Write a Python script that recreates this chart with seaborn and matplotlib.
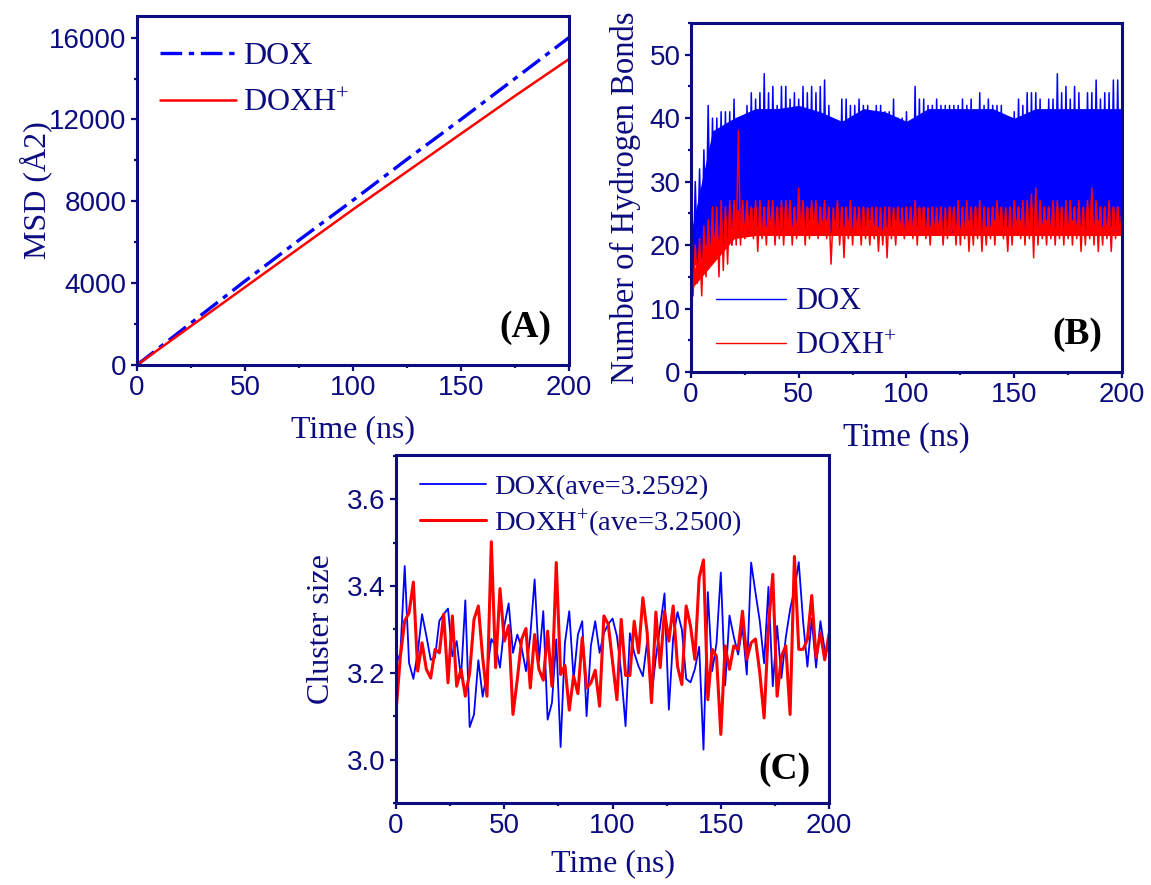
import numpy as np
import pandas as pd
import matplotlib
matplotlib.use("Agg")
import matplotlib.pyplot as plt
from matplotlib.ticker import MultipleLocator
import seaborn as sns

# ---------------- data ----------------
# (A) MSD
msd_time = [0, 25, 50, 75, 100, 125, 150, 175, 200]
msd_dox = [0, 2050, 4100, 6100, 8050, 10050, 12000, 14000, 16000]
msd_doxh = [0, 1900, 3800, 5700, 7600, 9450, 11300, 13150, 14950]

# (B) hydrogen bonds: envelope (max / min) read every 2 ns
hb_time = list(range(0, 201, 2))
hb_dox_max = [28, 30, 32, 35, 42, 40, 40, 41, 41, 41, 43, 40, 39, 42, 44, 43, 44, 47, 44, 45,
              42, 45, 45, 43, 44, 43, 45, 44, 45, 44, 45, 46, 42, 38, 38, 43, 43, 42, 42, 43,
              42, 42, 41, 42, 42, 41, 41, 43, 40, 40, 41, 38, 45, 43, 43, 42, 42, 43, 42, 42,
              42, 42, 42, 43, 42, 43, 41, 44, 42, 43, 42, 42, 42, 39, 40, 41, 43, 42, 44, 44,
              44, 43, 41, 43, 43, 47, 44, 45, 43, 45, 44, 41, 44, 44, 46, 43, 44, 44, 46, 46,
              42]
hb_dox_min = [14, 17, 18, 20, 20, 20, 21, 20, 21, 20, 22, 22, 23, 22, 24, 23, 22, 23, 24, 22,
              23, 22, 24, 23, 22, 23, 22, 24, 23, 22, 23, 24, 22, 23, 22, 23, 24, 22, 23, 22,
              23, 24, 22, 23, 22, 23, 22, 24, 23, 22, 23, 22, 23, 24, 22, 23, 22, 23, 22, 22,
              22, 23, 22, 23, 24, 22, 23, 22, 23, 22, 24, 23, 22, 23, 22, 23, 24, 22, 23, 22,
              23, 22, 24, 23, 22, 23, 22, 23, 24, 22, 23, 22, 23, 22, 24, 23, 22, 23, 22, 23,
              24]
hb_doxh_max = [16, 20, 21, 23, 24, 26, 26, 27, 26, 27, 27, 38, 27, 27, 26, 27, 27, 26, 27, 27,
               26, 27, 27, 27, 26, 29, 27, 26, 27, 27, 26, 27, 26, 25, 27, 26, 26, 27, 26, 26,
               26, 25, 26, 26, 25, 26, 26, 25, 26, 25, 26, 26, 27, 26, 26, 25, 26, 25, 26, 25,
               26, 26, 27, 26, 27, 26, 26, 27, 26, 25, 26, 27, 26, 25, 26, 27, 26, 27, 27, 28,
               29, 27, 26, 26, 27, 27, 26, 27, 27, 26, 27, 26, 27, 29, 27, 26, 26, 27, 26, 26,
               25]
hb_doxh_min = [12, 14, 12, 15, 17, 18, 15, 16, 17, 20, 20, 20, 21, 22, 21, 19, 21, 20, 22, 20,
               21, 20, 22, 20, 21, 22, 20, 21, 22, 21, 22, 21, 17, 22, 20, 18, 21, 20, 22, 20,
               21, 20, 21, 19, 20, 18, 21, 20, 22, 21, 22, 21, 20, 22, 21, 20, 22, 22, 20, 21,
               22, 20, 20, 21, 19, 20, 21, 19, 20, 21, 20, 22, 21, 19, 20, 22, 21, 20, 21, 18,
               20, 21, 20, 21, 20, 21, 20, 21, 20, 21, 19, 20, 21, 20, 19, 20, 21, 19, 21, 22,
               23]
# solid (densely filled) part of each band, read every 10 ns
hb_core_time = list(range(0, 201, 10))
hb_dox_core_hi = [22, 38, 40, 41.5, 41.5, 42, 41, 39.5, 41.5, 41, 39.5, 41.5, 41.5, 41.5, 41.5,
                  40, 41.5, 41.5, 41.5, 41.5, 41.5]
hb_dox_core_lo = [16, 21, 22, 23, 23, 23, 23, 23, 23, 23, 23, 23, 23, 23, 23, 23, 23, 23, 23, 23, 23]
hb_doxh_core_hi = [15, 23, 25.5, 26, 26, 26, 26, 26, 26, 26, 26, 26, 26, 26, 26, 26, 26, 26, 26,
                   26, 26]
hb_doxh_core_lo = [13, 17, 21, 21.5, 21.5, 21.5, 21.5, 21.5, 21.5, 21.5, 21.5, 21.5, 21.5, 21.5,
                   21.5, 21.5, 21.5, 21.5, 21.5, 21.5, 21.5]

# (C) cluster size every 2 ns
cs_time = list(range(0, 201, 2))
cs_dox = [3.220, 3.246, 3.446, 3.223, 3.186, 3.246, 3.335, 3.285, 3.230, 3.235,
          3.320, 3.335, 3.348, 3.238, 3.273, 3.188, 3.367, 3.075, 3.104, 3.229,
          3.145, 3.200, 3.278, 3.262, 3.212, 3.308, 3.360, 3.246, 3.288, 3.258,
          3.204, 3.285, 3.415, 3.227, 3.342, 3.092, 3.131, 3.277, 3.029, 3.269,
          3.342, 3.185, 3.288, 3.319, 3.100, 3.263, 3.319, 3.246, 3.292, 3.312,
          3.325, 3.285, 3.200, 3.077, 3.291, 3.246, 3.215, 3.192, 3.273, 3.146,
          3.235, 3.308, 3.383, 3.115, 3.281, 3.340, 3.300, 3.186, 3.178, 3.208,
          3.260, 3.023, 3.386, 3.204, 3.268, 3.431, 3.171, 3.332, 3.283, 3.242,
          3.306, 3.196, 3.454, 3.385, 3.319, 3.222, 3.398, 3.169, 3.308, 3.188,
          3.281, 3.346, 3.392, 3.455, 3.319, 3.214, 3.325, 3.212, 3.319, 3.252,
          3.250]
cs_doxh = [3.112, 3.238, 3.320, 3.338, 3.409, 3.204, 3.269, 3.208, 3.188, 3.254,
           3.246, 3.335, 3.177, 3.331, 3.169, 3.208, 3.146, 3.200, 3.323, 3.354,
           3.235, 3.146, 3.502, 3.212, 3.394, 3.273, 3.309, 3.104, 3.185, 3.277,
           3.302, 3.165, 3.288, 3.208, 3.183, 3.296, 3.169, 3.454, 3.196, 3.217,
           3.114, 3.192, 3.152, 3.281, 3.165, 3.177, 3.206, 3.123, 3.331, 3.312,
           3.225, 3.138, 3.323, 3.194, 3.194, 3.319, 3.246, 3.373, 3.292, 3.131,
           3.340, 3.212, 3.342, 3.273, 3.354, 3.215, 3.173, 3.354, 3.308, 3.231,
           3.419, 3.460, 3.138, 3.254, 3.238, 3.058, 3.262, 3.208, 3.262, 3.254,
           3.342, 3.231, 3.269, 3.278, 3.200, 3.096, 3.306, 3.427, 3.146, 3.238,
           3.262, 3.104, 3.468, 3.254, 3.254, 3.277, 3.378, 3.235, 3.292, 3.230,
           3.290]

time_ticks = [0, 50, 100, 150, 200]
msd_ticks = [0, 4000, 8000, 12000, 16000]
hb_ticks = [0, 10, 20, 30, 40, 50]
cs_ticks = [3.0, 3.2, 3.4, 3.6]

# ---------------- style ----------------
NAVY = "#0c0c80"
BLUE = "#0000ff"
RED = "#ff0000"
sns.set_style("ticks")
plt.rcParams["font.family"] = ["Liberation Sans", "DejaVu Sans"]
plt.rcParams["mathtext.fontset"] = "custom"
plt.rcParams["mathtext.rm"] = "Liberation Serif"
plt.rcParams["mathtext.it"] = "Liberation Serif:italic"
plt.rcParams["mathtext.bf"] = "Liberation Serif:bold"

SERIF = ["Liberation Serif", "DejaVu Serif"]

fig = plt.figure(figsize=(11.51, 8.85), dpi=100)
axA = fig.add_axes([0.1190, 0.5876, 0.3753, 0.3944])
axB = fig.add_axes([0.6003, 0.5797, 0.3745, 0.3944])
axC = fig.add_axes([0.3441, 0.0927, 0.3762, 0.3932])


def style_axes(ax, xlabel, ylabel, label_size=23, xpad=2, ypad=4):
    for sp in ax.spines.values():
        sp.set_color(NAVY)
        sp.set_linewidth(2.2)
        sp.set_visible(True)
    ax.tick_params(which="both", direction="out", color=NAVY, width=1.6,
                   labelcolor=NAVY, labelsize=20, top=False, right=False)
    ax.tick_params(which="major", length=4.5, pad=3)
    ax.tick_params(which="minor", length=2.5)
    ax.set_xlabel(xlabel, fontsize=label_size, family=SERIF, color=NAVY, labelpad=xpad)
    ax.set_ylabel(ylabel, fontsize=label_size, family=SERIF, color=NAVY, labelpad=ypad)
    ax.set_facecolor("white")


# ---- (A) ----
sns.lineplot(x=msd_time, y=msd_dox, ax=axA, color=BLUE, lw=2.4,
             linestyle=(0, (6.5, 2.0, 1.6, 2.0)), label="DOX")
sns.lineplot(x=msd_time, y=msd_doxh, ax=axA, color=RED, lw=1.8, label="DOXH$^{+}$")
axA.set_xlim(0, 200)
axA.set_ylim(0, 17060)
axA.set_xticks(time_ticks)
axA.set_yticks(msd_ticks)
axA.xaxis.set_minor_locator(MultipleLocator(25))
axA.yaxis.set_minor_locator(MultipleLocator(2000))
style_axes(axA, "Time (ns)", "MSD (Å2)", xpad=10, ypad=-2)
legA = axA.legend(loc="upper left", bbox_to_anchor=(0.008, 0.98), frameon=False,
                  prop={"family": SERIF, "size": 23}, handlelength=2.4,
                  handletextpad=0.2, labelspacing=0.55, borderaxespad=0.2)
for t in legA.get_texts():
    t.set_color(NAVY)
axA.text(0.898, 0.106, "(A)", transform=axA.transAxes, ha="center", va="center",
         fontsize=27, fontweight="bold", family=SERIF, color="black")


# ---- (B) ----
def zigzag(times, hi, lo):
    xs, ys = [], []
    for t, h, l in zip(times, hi, lo):
        xs += [t, t + 1]
        ys += [h, l]
    return pd.DataFrame({"t": xs, "v": ys})


zb = zigzag(hb_time, hb_dox_max, hb_dox_min)
zr = zigzag(hb_time, hb_doxh_max, hb_doxh_min)
axB.fill_between(hb_core_time, hb_dox_core_lo, hb_dox_core_hi, color=BLUE, lw=0)
sns.lineplot(data=zb, x="t", y="v", ax=axB, color=BLUE, lw=1.1, sort=False,
             estimator=None, label="DOX")
axB.fill_between(hb_core_time, hb_doxh_core_lo, hb_doxh_core_hi, color=RED, lw=0)
sns.lineplot(data=zr, x="t", y="v", ax=axB, color=RED, lw=1.1, sort=False,
             estimator=None, label="DOXH$^{+}$")
axB.set_xlim(0, 200)
axB.set_ylim(0, 55)
axB.set_xticks(time_ticks)
axB.set_yticks(hb_ticks)
axB.xaxis.set_minor_locator(MultipleLocator(25))
axB.yaxis.set_minor_locator(MultipleLocator(5))
style_axes(axB, "Time (ns)", "Number of Hydrogen Bonds", label_size=23.5, xpad=10, ypad=6)
legB = axB.legend(loc="lower left", bbox_to_anchor=(0.015, -0.02), frameon=False,
                  prop={"family": SERIF, "size": 22}, handlelength=2.3,
                  handletextpad=0.3, labelspacing=0.5, borderaxespad=0.2)
for t in legB.get_texts():
    t.set_color(NAVY)
for h in legB.get_lines():
    h.set_linewidth(1.0)
axB.text(0.896, 0.106, "(B)", transform=axB.transAxes, ha="center", va="center",
         fontsize=27, fontweight="bold", family=SERIF, color="black")

# ---- (C) ----
sns.lineplot(x=cs_time, y=cs_dox, ax=axC, color=BLUE, lw=1.3,
             label="DOX(ave=3.2592)")
sns.lineplot(x=cs_time, y=cs_doxh, ax=axC, color=RED, lw=2.2,
             label="DOXH$^{+}$(ave=3.2500)")
axC.set_xlim(0, 200)
axC.set_ylim(2.9, 3.702)
axC.set_xticks(time_ticks)
axC.set_yticks(cs_ticks)
axC.set_yticklabels(["3.0", "3.2", "3.4", "3.6"])
axC.xaxis.set_minor_locator(MultipleLocator(25))
axC.yaxis.set_minor_locator(MultipleLocator(0.1))
style_axes(axC, "Time (ns)", "Cluster size", xpad=7, ypad=8)
legC = axC.legend(loc="upper left", bbox_to_anchor=(0.016, 0.995), frameon=False,
                  prop={"family": SERIF, "size": 20.5}, handlelength=2.3,
                  handletextpad=0.3, labelspacing=0.25, borderaxespad=0.2)
for t in legC.get_texts():
    t.set_color(NAVY)
axC.text(0.898, 0.095, "(C)", transform=axC.transAxes, ha="center", va="center",
         fontsize=27, fontweight="bold", family=SERIF, color="black")

fig.savefig("out.png", dpi=100, facecolor="white")
